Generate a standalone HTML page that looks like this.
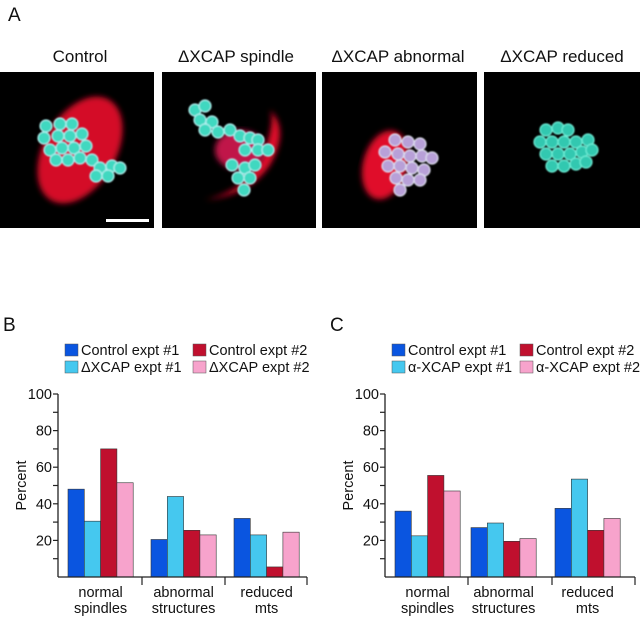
<!DOCTYPE html>
<html><head><meta charset="utf-8"><style>
html,body{margin:0;padding:0;background:#fff;width:640px;height:617px;overflow:hidden}
svg text{font-family:"Liberation Sans",sans-serif;fill:#111}
</style></head><body>
<svg id="fig" width="640" height="617" viewBox="0 0 640 617" xmlns="http://www.w3.org/2000/svg">
<defs>
<filter id="blur3"><feGaussianBlur stdDeviation="3"/></filter>
<filter id="blur1"><feGaussianBlur stdDeviation="0.8"/></filter>
</defs>
<text x="8" y="21" font-size="19">A</text>
<g>
<text x="80" y="62" font-size="17" text-anchor="middle">Control</text>
<text x="236" y="62" font-size="17" text-anchor="middle">ΔXCAP spindle</text>
<text x="398" y="62" font-size="17" text-anchor="middle">ΔXCAP abnormal</text>
<text x="562" y="62" font-size="17" text-anchor="middle">ΔXCAP reduced</text>
</g>
<g>
<rect x="0" y="72" width="154" height="156" fill="#000"/>
<ellipse cx="80" cy="150" rx="36" ry="58" transform="rotate(30 80 150)" fill="#e0102a" filter="url(#blur3)" opacity="0.95"/>
<g id="c1" fill="#3fd8c0" stroke="#b0f0f0" stroke-width="1.2" filter="url(#blur1)"></g>
<rect x="106" y="219" width="43" height="3" fill="#fff"/>
</g>
<g>
<rect x="162" y="72" width="154" height="156" fill="#000"/>
<path d="M205 200 Q250 190 265 150 Q275 120 270 110 Q290 130 270 165 Q250 195 205 200Z" fill="#e0102a" filter="url(#blur3)"/>
<ellipse cx="240" cy="150" rx="25" ry="20" fill="#c01848" filter="url(#blur3)"/>
<g id="c2" fill="#3fd8c0" stroke="#b0f0f0" stroke-width="1.2" filter="url(#blur1)"></g>
</g>
<g>
<rect x="322" y="72" width="155" height="156" fill="#000"/>
<ellipse cx="385" cy="165" rx="22" ry="35" transform="rotate(15 385 165)" fill="#e0102a" filter="url(#blur3)"/>
<g id="c3" fill="#b8a0d8" stroke="#e0e0f0" stroke-width="1.2" filter="url(#blur1)"></g>
</g>
<g>
<rect x="484" y="72" width="156" height="156" fill="#000"/>
<g id="c4" fill="#30c8b0" stroke="#70f0d8" stroke-width="1.2" filter="url(#blur1)"></g>
</g>
<g id="chartB"></g>
<g id="chartC"></g>
</svg>
<script>
const categories = [["normal","spindles"],["abnormal","structures"],["reduced","mts"]];
const seriesB1 = [48, 20.5, 32];
const seriesB2 = [30.5, 44, 23];
const seriesB3 = [70, 25.5, 5.5];
const seriesB4 = [51.5, 23, 24.5];
const seriesC1 = [36, 27, 37.5];
const seriesC2 = [22.5, 29.5, 53.5];
const seriesC3 = [55.5, 19.5, 25.5];
const seriesC4 = [47, 21, 32];
const legendB = ["Control expt #1","ΔXCAP expt #1","Control expt #2","ΔXCAP expt #2"];
const legendC = ["Control expt #1","α-XCAP expt #1","Control expt #2","α-XCAP expt #2"];
const yTicks = [20, 40, 60, 80, 100];
const colors = ["#0a55e0","#45c8ef","#c0102e","#f7a3cc"];
const NS = "http://www.w3.org/2000/svg";
function mk(p, tag, attrs, txt){const e=document.createElementNS(NS,tag);for(const k in attrs)e.setAttribute(k,attrs[k]);if(txt!=null)e.textContent=txt;p.appendChild(e);return e;}

function beads(id, pts){const g=document.getElementById(id);pts.forEach(p=>{const c=mk(g,'circle',{cx:p[0],cy:p[1],r:6});

});}
beads('c1',[[46,126],[60,124],[72,124],[44,138],[58,136],[70,136],[82,134],[50,150],[62,148],[74,148],[86,146],[56,160],[68,160],[80,158],[92,160],[100,168],[112,166],[96,176],[108,176],[120,168]]);
beads('c2',[[195,110],[205,106],[200,120],[212,122],[205,130],[218,132],[230,130],[240,136],[250,138],[258,140],[245,150],[258,150],[268,150],[232,165],[245,168],[255,165],[238,178],[250,178],[244,190]]);
beads('c3',[[395,140],[408,142],[420,144],[385,152],[398,154],[410,156],[422,156],[432,158],[388,166],[400,166],[412,168],[424,170],[396,178],[408,180],[420,180],[400,190]]);
beads('c4',[[546,130],[558,128],[568,130],[540,142],[552,142],[564,142],[576,142],[588,140],[546,154],[558,154],[570,154],[582,152],[592,150],[552,166],[564,166],[576,164],[586,162]]);

function chart(id, label, lx, ax, axEnd, seps, groupX, series, legend){
  const g=document.getElementById(id);
  const y0=577, y100=394;
  const ys=v=>y0-(y0-y100)*v/100;
  const barW=16.3;
  mk(g,'text',{x:lx,y:331,'font-size':19,},label);
  const lpos=[[ax+7,350],[ax+7,367],[ax+135,350],[ax+135,367]];
  legend.forEach((t,i)=>{
    const it=mk(g,'g',{});
    
    
    mk(it,'rect',{x:lpos[i][0],y:lpos[i][1]-6,width:13,height:12,fill:colors[i],stroke:'#555','stroke-width':0.5});
    mk(it,'text',{x:lpos[i][0]+16,y:lpos[i][1]+5,'font-size':14.5},t);
  });
  series.forEach((s,si)=>{s.forEach((v,ci)=>{
    const r=mk(g,'rect',{x:groupX[ci]+si*barW,y:ys(v),width:barW,height:y0-ys(v),fill:colors[si],stroke:'#333','stroke-width':0.6});
    
    
  });});
  const ya=mk(g,'line',{x1:ax,y1:y100,x2:ax,y2:y0,stroke:'#222','stroke-width':1.3});
  
  
  const xa=mk(g,'line',{x1:ax,y1:y0,x2:axEnd,y2:y0,stroke:'#222','stroke-width':1.3});
  
  
  for(let v=10;v<=100;v+=10){mk(g,'line',{x1:ax-5,y1:ys(v),x2:ax,y2:ys(v),stroke:'#222','stroke-width':1.2});}
  yTicks.forEach(v=>{const t=mk(g,'text',{x:ax-6,y:ys(v)+5,'font-size':14.5,'text-anchor':'end'},String(v));
    
    });
  seps.concat([axEnd]).forEach(x=>mk(g,'line',{x1:x,y1:y0,x2:x,y2:y0+8,stroke:'#222','stroke-width':1.2}));
  const yt=mk(g,'text',{x:0,y:0,'font-size':14.5,'text-anchor':'middle',transform:`translate(${ax-32},${ys(50)}) rotate(-90)`},'Percent');
  
  
  categories.forEach((c,ci)=>{const cx=groupX[ci]+2*barW;
    const t=mk(g,'text',{x:cx,y:597,'font-size':14.5,'text-anchor':'middle'},c[0]);
    
    
    mk(g,'text',{x:cx,y:613,'font-size':14.5,'text-anchor':'middle'},c[1]);});
}
chart('chartB','B',3,58,307,[142,225],[68,151,234],[seriesB1,seriesB2,seriesB3,seriesB4],legendB);
chart('chartC','C',330,385,635,[468,552],[395,471,555],[seriesC1,seriesC2,seriesC3,seriesC4],legendC);
</script>
</body></html>
